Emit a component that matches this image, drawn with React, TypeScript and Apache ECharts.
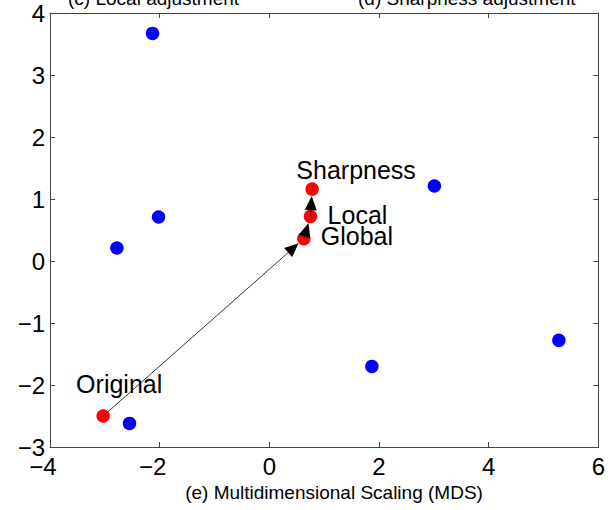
import React, { useEffect, useRef } from "react";
import * as echarts from "echarts";

// ---- data ----
const blueX = [-2.13, -2.02, -2.78, -2.55, 1.87, 3.01, 5.28];
const blueY = [3.67, 0.71, 0.21, -2.62, -1.7, 1.21, -1.28];
const redNames = ["Original", "Global", "Local", "Sharpness"];
const redX = [-3.03, 0.63, 0.75, 0.78];
const redY = [-2.5, 0.36, 0.72, 1.16];
const arrowPairs = [
  [0, 1],
  [1, 2],
  [2, 3],
];
const xTicks = { min: -4, max: 6, interval: 2 };
const yTicks = { min: -3, max: 4, interval: 1 };
const topTitles = ["(c) Local adjustment", "(d) Sharpness adjustment"];
const xTitle = "(e) Multidimensional Scaling (MDS)";

const FONT = "'Liberation Sans', Arial, Helvetica, sans-serif";
const labelOffsets: Record<string, number[]> = {
  Original: [16, -32],
  Global: [53, -3],
  Local: [47, -1],
  Sharpness: [44, -19],
};

export default function App() {
  const ref = useRef<HTMLDivElement>(null);
  useEffect(() => {
    if (!ref.current) return;
    const chart = echarts.init(ref.current, undefined, { renderer: "svg" });
    const axisLine = { show: true, onZero: false, lineStyle: { color: "#444", width: 1 } };
    const tickIn = { show: true, inside: true, length: 5, lineStyle: { color: "#444" } };
    const DOT_R = 7;
    chart.setOption({
      animation: false,
      backgroundColor: "#fff",
      grid: { left: 50, right: 8, top: 13, bottom: 63, show: false },
      xAxis: [
        {
          type: "value",
          position: "bottom",
          ...xTicks,
          axisLine,
          axisTick: tickIn,
          splitLine: { show: false },
          axisLabel: {
            margin: 7,
            color: "#000",
            fontSize: 24,
            fontFamily: FONT,
            formatter: (v: number) =>
              v < 0 ? `{n|\u2212${-v}}{p| }` : `{n|${v}}`,
            rich: {
              n: { fontSize: 24, fontFamily: FONT, color: "#000" },
              p: { width: 14, fontSize: 24 },
            },
          },
        },
        {
          type: "value",
          position: "top",
          ...xTicks,
          axisLine,
          axisTick: tickIn,
          splitLine: { show: false },
          axisLabel: { show: false },
        },
      ],
      yAxis: [
        {
          type: "value",
          position: "left",
          ...yTicks,
          axisLine,
          axisTick: tickIn,
          splitLine: { show: false },
          axisLabel: {
            margin: 5,
            color: "#000",
            fontSize: 24,
            fontFamily: FONT,
            formatter: (v: number) => (v < 0 ? `\u2212${-v}` : `${v}`),
          },
        },
        {
          type: "value",
          position: "right",
          ...yTicks,
          axisLine,
          axisTick: tickIn,
          splitLine: { show: false },
          axisLabel: { show: false },
        },
      ],
      series: [
        {
          type: "scatter",
          symbol: "circle",
          symbolSize: 13.5,
          itemStyle: { color: "#0000ff", opacity: 1 },
          data: blueX.map((x, i) => [x, blueY[i]]),
          z: 2,
        },
        {
          type: "scatter",
          symbol: "circle",
          symbolSize: 13.5,
          itemStyle: { color: "#ff0000", opacity: 1 },
          data: redX.map((x, i) => ({
            name: redNames[i],
            value: [x, redY[i]],
            label: {
              show: true,
              position: "inside",
              offset: labelOffsets[redNames[i]],
              formatter: redNames[i],
              color: "#000",
              fontSize: 25,
              fontFamily: FONT,
              align: "center",
              verticalAlign: "middle",
            },
          })),
          z: 3,
        },
        {
          type: "custom",
          z: 4,
          data: arrowPairs.map(([a, b]) => [redX[a], redY[a], redX[b], redY[b]]),
          encode: { x: [0, 2], y: [1, 3] },
          renderItem: (params: any, api: any) => {
            const p1 = api.coord([api.value(0), api.value(1)]);
            const p2 = api.coord([api.value(2), api.value(3)]);
            const dx = p2[0] - p1[0];
            const dy = p2[1] - p1[1];
            const len = Math.sqrt(dx * dx + dy * dy) || 1;
            const ux = dx / len;
            const uy = dy / len;
            const nx = -uy;
            const ny = ux;
            const tip = [p2[0] - ux * DOT_R, p2[1] - uy * DOT_R];
            const headLen = 14;
            const halfW = 6;
            const base = [tip[0] - ux * headLen, tip[1] - uy * headLen];
            return {
              type: "group",
              children: [
                {
                  type: "line",
                  shape: { x1: p1[0], y1: p1[1], x2: base[0] + ux * 2, y2: base[1] + uy * 2 },
                  style: { stroke: "#000", lineWidth: 0.8 },
                },
                {
                  type: "polygon",
                  shape: {
                    points: [
                      tip,
                      [base[0] + nx * halfW, base[1] + ny * halfW],
                      [base[0] - nx * halfW, base[1] - ny * halfW],
                    ],
                  },
                  style: { fill: "#000" },
                },
              ],
            };
          },
        },
      ],
      graphic: [
        {
          type: "text",
          x: 68,
          y: 8,
          style: {
            text: topTitles[0],
            font: `19px ${FONT}`,
            fill: "#000",
            textAlign: "left",
            textVerticalAlign: "bottom",
          },
        },
        {
          type: "text",
          x: 358,
          y: 8,
          style: {
            text: topTitles[1],
            font: `19px ${FONT}`,
            fill: "#000",
            textAlign: "left",
            textVerticalAlign: "bottom",
          },
        },
        {
          type: "text",
          x: 334,
          y: 492,
          style: {
            text: xTitle,
            font: `19px ${FONT}`,
            fill: "#000",
            textAlign: "center",
            textVerticalAlign: "middle",
          },
        },
      ],
    });
    return () => chart.dispose();
  }, []);
  return (
    <div
      ref={ref}
      style={{ position: "fixed", left: 0, top: 0, width: 608, height: 510 }}
    />
  );
}
